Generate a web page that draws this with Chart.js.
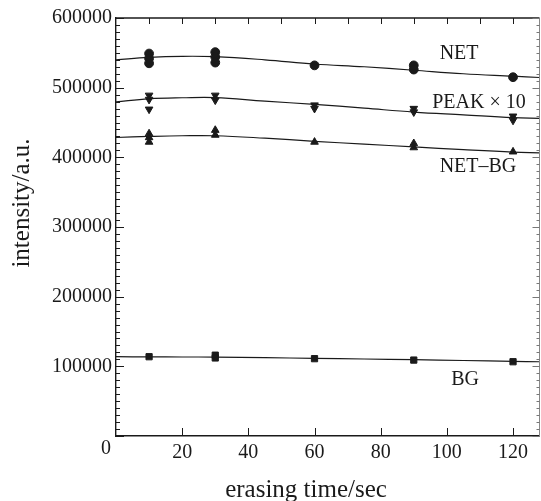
<!DOCTYPE html>
<html>
<head>
<meta charset="utf-8">
<script src="https://cdn.jsdelivr.net/npm/chart.js@4.4.0/dist/chart.umd.min.js"></script>
<style>
html, body { margin: 0; padding: 0; background: #fff; overflow: hidden; }
canvas { display: block; }
</style>
</head>
<body>
<canvas id="grafico" width="541" height="501"></canvas>
<script>
// pontos medidos (varias leituras por tempo)
const netX = [10, 10, 10, 30, 30, 30, 60, 90, 90, 120];
const netY = [549000, 542000, 535000, 551000, 544000, 536000, 532000, 532000, 526000, 515000];
const peakX = [10, 10, 10, 30, 30, 60, 60, 90, 90, 120, 120];
const peakY = [489000, 483000, 469000, 489000, 482000, 475000, 470000, 470000, 465000, 459000, 453000];
const netBgX = [10, 10, 10, 30, 30, 60, 90, 90, 120];
const netBgY = [434000, 428500, 422000, 439000, 432000, 422000, 420000, 414000, 408000];
const bgX = [10, 30, 30, 60, 90, 120];
const bgY = [113800, 116000, 112000, 111000, 109000, 106600];

// curvas ajustadas
const curvaX = [0, 10, 20, 30, 45, 60, 75, 90, 105, 120, 128];
const netCurva = [540000, 543500, 545000, 544500, 540000, 534000, 530000, 525000, 520000, 516500, 514600];
const peakCurva = [479600, 484000, 485500, 485800, 480600, 476000, 470600, 465000, 461000, 457000, 456000];
const netBgCurva = [428500, 430000, 431000, 431000, 427500, 423000, 419000, 415000, 411000, 407500, 406500];
const bgCurva = [113800, 113600, 113400, 113300, 112400, 111500, 110500, 109500, 108400, 107200, 106600];

// rotulos das series
const rotulos = ['NET', 'PEAK \u00d7 10', 'NET\u2013BG', 'BG'];
const rotuloX = [103.7, 109.7, 109.4, 105.5];
const rotuloY = [548500, 479000, 386000, 80300];

const xTicks = [0, 20, 40, 60, 80, 100, 120];
const yTicks = [0, 100000, 200000, 300000, 400000, 500000, 600000];

const fonte = '"Liberation Serif", "Times New Roman", serif';
const tinta = '#1a1a1a';

function pontos(xs, ys) {
    return xs.map((x, i) => ({ x: x, y: ys[i] }));
}

function curva(ys) {
    return {
        type: 'line',
        data: pontos(curvaX, ys),
        borderColor: tinta,
        borderWidth: 1.2,
        pointRadius: 0,
        tension: 0.4,
        fill: false
    };
}

function marcador(xs, ys, estilo, rot) {
    return {
        type: 'scatter',
        data: pontos(xs, ys),
        showLine: false,
        pointStyle: estilo,
        rotation: rot || 0,
        pointRadius: 4.4,
        backgroundColor: tinta,
        borderColor: tinta,
        borderWidth: 1
    };
}

// moldura, marcas internas e textos
const moldura = {
    id: 'moldura',
    afterDraw(chart) {
        const ctx = chart.ctx;
        const a = chart.chartArea;
        const sx = chart.scales.x;
        const sy = chart.scales.y;
        ctx.save();

        // borda superior e direita
        ctx.strokeStyle = tinta;
        ctx.lineWidth = 1.4;
        ctx.beginPath();
        ctx.moveTo(a.left, a.top);
        ctx.lineTo(a.right, a.top);
        ctx.stroke();
        ctx.strokeStyle = '#888';
        ctx.lineWidth = 1;
        ctx.beginPath();
        ctx.moveTo(a.right, a.top);
        ctx.lineTo(a.right, a.bottom);
        ctx.stroke();

        // marcas do eixo y (esquerda e direita)
        for (let v = 0; v <= 600000; v += 10000) {
            const py = Math.round(sy.getPixelForValue(v)) + 0.5;
            const maior = v % 100000 === 0;
            ctx.strokeStyle = tinta;
            ctx.lineWidth = 1;
            ctx.beginPath();
            ctx.moveTo(a.left, py);
            ctx.lineTo(a.left + (maior ? 8 : 4), py);
            ctx.stroke();
            ctx.strokeStyle = '#777';
            ctx.beginPath();
            ctx.moveTo(a.right, py);
            ctx.lineTo(a.right - (maior ? 7 : 3), py);
            ctx.stroke();
        }

        // marcas do eixo x
        ctx.strokeStyle = tinta;
        for (let v = 20; v <= 120; v += 20) {
            const px = Math.round(sx.getPixelForValue(v)) + 0.5;
            ctx.beginPath();
            ctx.moveTo(px, a.bottom);
            ctx.lineTo(px, a.bottom - 8);
            ctx.stroke();
        }
        for (let v = 10; v <= 120; v += 10) {
            const px = Math.round(sx.getPixelForValue(v)) + 0.5;
            ctx.beginPath();
            ctx.moveTo(px, a.top);
            ctx.lineTo(px, a.top + 6);
            ctx.stroke();
        }

        // textos
        ctx.fillStyle = tinta;
        ctx.textAlign = 'center';
        ctx.textBaseline = 'middle';
        ctx.font = '20px ' + fonte;
        ctx.fillText('0', sx.getPixelForValue(0) - 10, a.bottom + 13);
        rotulos.forEach((t, i) => {
            ctx.fillText(t, sx.getPixelForValue(rotuloX[i]), sy.getPixelForValue(rotuloY[i]));
        });

        ctx.font = '25px ' + fonte;
        ctx.fillText('erasing time/sec', a.left + 190, a.bottom + 54);
        ctx.translate(22, a.top + 185);
        ctx.rotate(-Math.PI / 2);
        ctx.fillText('intensity/a.u.', 0, 0);
        ctx.restore();
    }
};

new Chart(document.getElementById('grafico'), {
    type: 'scatter',
    data: {
        datasets: [
            curva(netCurva),
            curva(peakCurva),
            curva(netBgCurva),
            curva(bgCurva),
            marcador(netX, netY, 'circle'),
            marcador(peakX, peakY, 'triangle', 180),
            marcador(netBgX, netBgY, 'triangle'),
            marcador(bgX, bgY, 'rect')
        ]
    },
    options: {
        responsive: false,
        animation: false,
        devicePixelRatio: 1,
        layout: { autoPadding: false, padding: { top: 18, right: 1.5, bottom: 0, left: 0 } },
        plugins: {
            legend: { display: false },
            tooltip: { enabled: false }
        },
        scales: {
            x: {
                type: 'linear',
                min: 0,
                max: 128,
                grid: { display: false, drawTicks: false },
                border: { display: true, color: tinta, width: 1.4 },
                afterBuildTicks: (s) => { s.ticks = xTicks.map(v => ({ value: v })); },
                afterFit: (s) => {
                    s.height = 65;
                    s.paddingLeft = 0;
                    s.paddingRight = 0;
                },
                ticks: {
                    padding: 5,
                    color: tinta,
                    font: { family: fonte, size: 20 },
                    callback: (v) => v === 0 ? '' : v
                }
            },
            y: {
                type: 'linear',
                min: 0,
                max: 600000,
                grid: { display: false, drawTicks: false },
                border: { display: true, color: tinta, width: 1.4 },
                afterBuildTicks: (s) => { s.ticks = yTicks.map(v => ({ value: v })); },
                afterFit: (s) => { s.width = 116; },
                ticks: {
                    padding: 4,
                    color: tinta,
                    font: { family: fonte, size: 20 },
                    callback: (v) => v === 0 ? '' : String(v)
                }
            }
        }
    },
    plugins: [moldura]
});
</script>
</body>
</html>
